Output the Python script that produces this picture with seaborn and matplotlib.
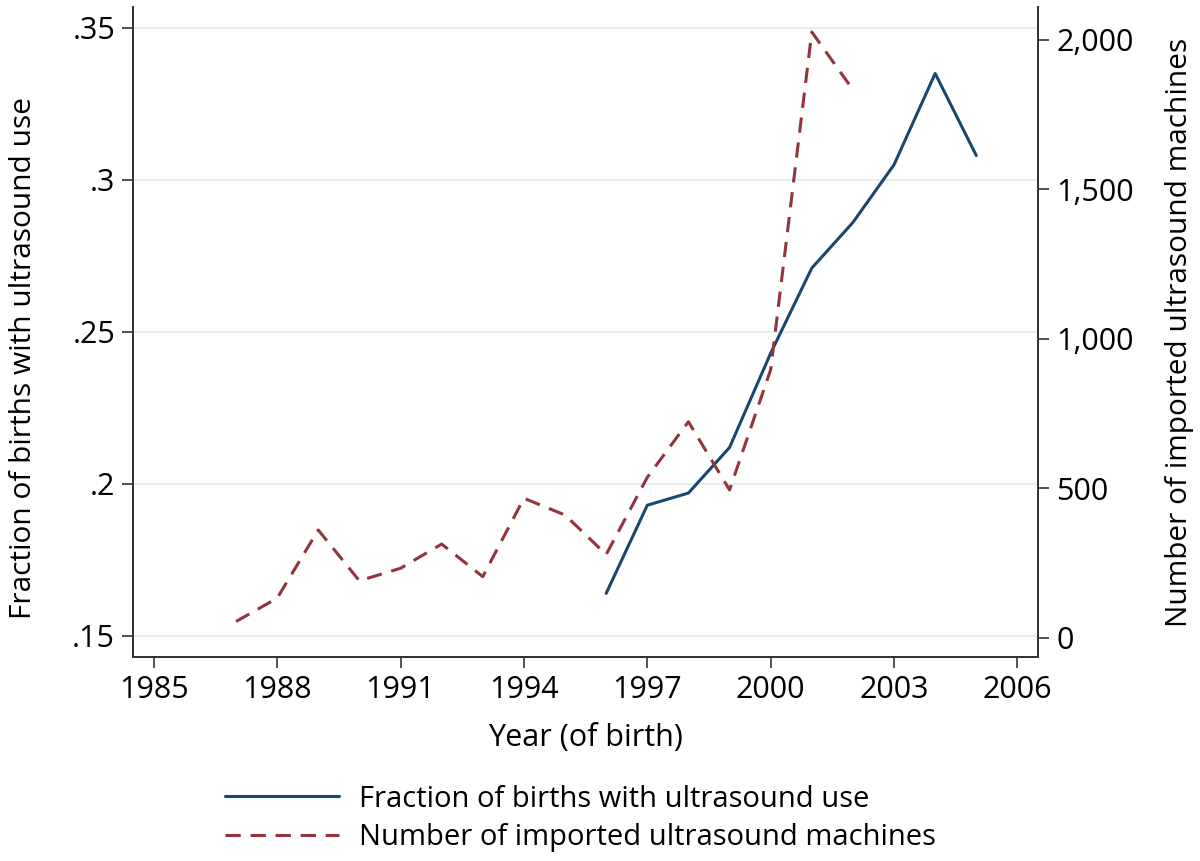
import numpy as np
import pandas as pd
import matplotlib
matplotlib.use("Agg")
import matplotlib.pyplot as plt
import seaborn as sns

# Data
years_frac = [1996, 1997, 1998, 1999, 2000, 2001, 2002, 2003, 2004, 2005]
frac_ultrasound = [0.164, 0.193, 0.197, 0.212, 0.243, 0.271, 0.286, 0.305, 0.335, 0.308]

years_imports = [1987, 1988, 1989, 1990, 1991, 1992, 1993, 1994, 1995,
                 1996, 1997, 1998, 1999, 2000, 2001, 2002]
n_machines = [55, 133, 361, 191, 233, 314, 205, 467, 411,
              279, 537, 723, 495, 897, 2026, 1833]

xticks = [1985, 1988, 1991, 1994, 1997, 2000, 2003, 2006]
left_ticks = [0.15, 0.20, 0.25, 0.30, 0.35]
left_labels = [".15", ".2", ".25", ".3", ".35"]
right_ticks = [0, 500, 1000, 1500, 2000]
right_labels = ["0", "500", "1,000", "1,500", "2,000"]

frac_df = pd.DataFrame({"year": years_frac, "frac": frac_ultrasound})
imp_df = pd.DataFrame({"year": years_imports, "n": n_machines})

sns.set_style("white")
plt.rcParams['font.family'] = ['Open Sans', 'DejaVu Sans']
plt.rcParams['text.color'] = 'black'
plt.rcParams['xtick.color'] = 'black'
plt.rcParams['ytick.color'] = 'black'
plt.rcParams['axes.labelcolor'] = 'black'

blue = "#1a476f"
red = "#90353b"
grid_col = "#e6eff0"

fig = plt.figure(figsize=(12, 8.61), dpi=100)
ax = fig.add_axes([0.111, 0.237, 0.754, 0.755])
ax2 = ax.twinx()

sns.lineplot(data=frac_df, x="year", y="frac", ax=ax, color=blue, linewidth=2.2,
             label="Fraction of births with ultrasound use", legend=False)
sns.lineplot(data=imp_df, x="year", y="n", ax=ax2, color=red, linewidth=2.2,
             linestyle=(0, (5, 3.2)), label="Number of imported ultrasound machines",
             legend=False)

ax.set_xlim(1984.5, 2006.5)
ax.set_ylim(0.1431, 0.3569)
ax2.set_ylim(-63.5, 2110)

ax.set_xticks(xticks)
ax.set_xticklabels([str(t) for t in xticks], fontsize=22)
ax.set_yticks(left_ticks)
ax.set_yticklabels(left_labels, fontsize=22)
ax2.set_yticks(right_ticks)
ax2.set_yticklabels(right_labels, fontsize=22)

ax.yaxis.grid(True, color=grid_col, linewidth=1.6)
ax.set_axisbelow(True)
ax.xaxis.grid(False)
ax2.grid(False)

for a in (ax, ax2):
    a.spines["top"].set_visible(False)
    for s in ("left", "right", "bottom"):
        a.spines[s].set_color("#333333")
        a.spines[s].set_linewidth(1.3)
    a.tick_params(direction="out", length=8, width=1.2, color="#333333", pad=5)
ax.tick_params(axis="both", left=True, bottom=True)
ax2.tick_params(axis="y", right=True)

ax.set_xlabel("Year (of birth)", fontsize=22)
ax.set_ylabel("Fraction of births with ultrasound use", fontsize=21.5)
ax2.set_ylabel("Number of imported ultrasound machines", fontsize=21.5)
ax.xaxis.set_label_coords(0.5, -0.102)
ax.yaxis.set_label_coords(-0.105, 0.46)
ax2.yaxis.set_label_coords(1.140, 0.5)

h1, l1 = ax.get_legend_handles_labels()
h2, l2 = ax2.get_legend_handles_labels()
fig.legend(h1 + h2, l1 + l2, loc="lower center", bbox_to_anchor=(0.484, -0.02),
           frameon=False, fontsize=21, handlelength=3.9, handletextpad=0.7,
           labelspacing=0.32)

fig.savefig("out.png", dpi=100)
